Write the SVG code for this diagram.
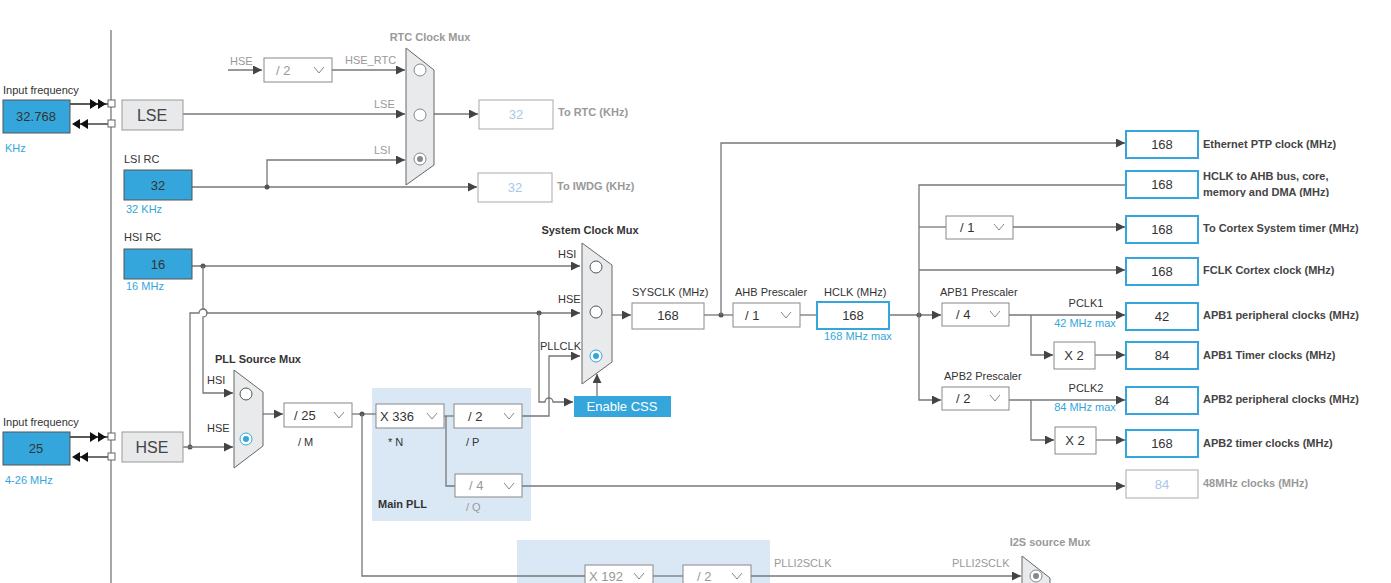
<svg xmlns="http://www.w3.org/2000/svg" width="1391" height="583" viewBox="0 0 1391 583">
<defs>
<marker id="ar" viewBox="0 0 10 10" refX="10" refY="5" markerWidth="9" markerHeight="9" markerUnits="userSpaceOnUse" orient="auto"><path d="M0,0L10,5L0,10z" fill="#444"/></marker>
<clipPath id="cl"><rect x="1200" y="168" width="190" height="29"/></clipPath>
<style>
text{font-family:"Liberation Sans",Arial,sans-serif;font-size:11px;fill:#333}
.w{stroke:#777;stroke-width:1.3;fill:none}
.a{marker-end:url(#ar)}
.blue{fill:#34a6dc;stroke:#555;stroke-width:1}
.gbox{fill:#e8e9eb;stroke:#999}
.dd{fill:#fff;stroke:#888}
.out{fill:#fff;stroke:#34a6dc;stroke-width:2}
.dis{fill:#fff;stroke:#aaa}
.mux{fill:#e8eaec;stroke:#666}
.b{font-weight:bold}
.bl{fill:#34a6dc}
.g{fill:#999}
.lt{fill:#a9c8e6}
.c{text-anchor:middle}
.big{font-size:16px;fill:#444}
.v{font-size:13px}
.chev{fill:none;stroke:#888;stroke-width:1}
.pll{fill:#dae8f5}
.dot{fill:#555}
</style>
</defs>
<rect width="1391" height="583" fill="#fff"/>
<rect class="pll" x="372" y="388" width="159" height="133"/>
<rect class="pll" x="517" y="540" width="253" height="43"/>
<g id="connectors">
<line class="w" x1="111" y1="30" x2="111" y2="583"/>
<line class="w" x1="70" y1="104" x2="108" y2="104" style="stroke:#222"/>
<path d="M90,99L98,104L90,109zM98,99L106,104L98,109z" fill="#111"/>
<line class="w" x1="78" y1="124" x2="108" y2="124" style="stroke:#222"/>
<path d="M80,119L72,124L80,129zM88,119L80,124L88,129z" fill="#111"/>
<rect x="108" y="100" width="7" height="7" fill="#fff" stroke="#666"/>
<rect x="108" y="120" width="7" height="7" fill="#fff" stroke="#666"/>
<line class="w" x1="70" y1="437" x2="108" y2="437" style="stroke:#222"/>
<path d="M90,432L98,437L90,442zM98,432L106,437L98,442z" fill="#111"/>
<line class="w" x1="78" y1="457" x2="108" y2="457" style="stroke:#222"/>
<path d="M80,452L72,457L80,462zM88,452L80,457L88,462z" fill="#111"/>
<rect x="108" y="433" width="7" height="7" fill="#fff" stroke="#666"/>
<rect x="108" y="453" width="7" height="7" fill="#fff" stroke="#666"/>
<line class="w a" x1="228" y1="70" x2="262" y2="70"/>
<line class="w a" x1="332" y1="70" x2="405" y2="70"/>
<line class="w a" x1="183" y1="114" x2="405" y2="114"/>
<line class="w a" x1="434" y1="114" x2="478" y2="114"/>
<line class="w a" x1="192" y1="187" x2="477" y2="187"/>
<polyline class="w a" points="267,187 267,160 405,160"/>
<circle class="dot" cx="267" cy="187" r="2.5"/>
<line class="w a" x1="192" y1="266" x2="580" y2="266"/>
<circle class="dot" cx="203" cy="266" r="2.5"/>
<path class="w a" d="M203,266V309a4,4 0 0 1 0,8V393H233"/>
<path class="w a" d="M190,447V313H199a4,4 0 0 1 8,0H580"/>
<circle class="dot" cx="190" cy="447" r="2.5"/>
<line class="w a" x1="183" y1="447" x2="233" y2="447"/>
<circle class="dot" cx="539" cy="313" r="2.5"/>
<path class="w a" d="M539,313V402H545a4,4 0 0 1 8,0H573"/>
<line class="w a" x1="263" y1="414" x2="283" y2="414"/>
<line class="w" x1="352" y1="414" x2="376" y2="414"/>
<circle class="dot" cx="362" cy="414" r="2.5"/>
<polyline class="w" points="362,414 362,576 585,576"/>
<line class="w" x1="444" y1="416" x2="454" y2="416"/>
<polyline class="w" points="446,416 446,486 455,486"/>
<polyline class="w a" points="522,416 549,416 549,356 580,356"/>
<line class="w a" x1="522" y1="486" x2="1125" y2="486"/>
<line class="w a" x1="597" y1="396" x2="597" y2="374"/>
<line class="w a" x1="612" y1="315" x2="631" y2="315"/>
<line class="w" x1="704" y1="315" x2="733" y2="315"/>
<circle class="dot" cx="721" cy="315" r="2.5"/>
<polyline class="w a" points="721,315 721,143 1125,143"/>
<line class="w" x1="800" y1="315" x2="817" y2="315"/>
<line class="w a" x1="889" y1="315" x2="941" y2="315"/>
<circle class="dot" cx="919" cy="315" r="2.5"/>
<polyline class="w a" points="1125,185 919,185 919,400 941,400"/>
<line class="w" x1="919" y1="227" x2="946" y2="227"/>
<line class="w a" x1="1013" y1="227" x2="1125" y2="227"/>
<line class="w a" x1="919" y1="270" x2="1125" y2="270"/>
<line class="w a" x1="1009" y1="315" x2="1125" y2="315"/>
<polyline class="w a" points="1031,315 1031,355 1053,355"/>
<line class="w a" x1="1095" y1="355" x2="1125" y2="355"/>
<line class="w a" x1="1009" y1="400" x2="1125" y2="400"/>
<polyline class="w a" points="1031,400 1031,440 1054,440"/>
<line class="w a" x1="1096" y1="440" x2="1125" y2="440"/>
<line class="w" x1="653" y1="576" x2="683" y2="576"/>
<line class="w a" x1="751" y1="576" x2="1021" y2="576"/>
</g>
<g id="in-lse"><text x="3" y="94">Input frequency</text><rect class="blue" x="3" y="100" width="67" height="33"/><text class="c v" x="36" y="121">32.768</text><text class="bl" x="5" y="152">KHz</text></g>
<g id="lse"><rect class="gbox" x="122" y="100" width="61" height="30"/><text class="c big" x="152" y="121">LSE</text></g>
<g id="lsi"><text x="124" y="163">LSI RC</text><rect class="blue" x="124" y="170" width="68" height="30"/><text class="c v" x="158" y="190">32</text><text class="bl" x="126" y="213">32 KHz</text></g>
<g id="hsi"><text x="124" y="241">HSI RC</text><rect class="blue" x="124" y="249" width="68" height="30"/><text class="c v" x="158" y="269">16</text><text class="bl" x="126" y="290">16 MHz</text></g>
<g id="in-hse"><text x="3" y="426">Input frequency</text><rect class="blue" x="3" y="432" width="67" height="33"/><text class="c v" x="36" y="453">25</text><text class="bl" x="5" y="484">4-26 MHz</text></g>
<g id="hse"><rect class="gbox" x="122" y="432" width="61" height="30"/><text class="c big" x="152" y="453">HSE</text></g>
<g id="rtcdiv"><text class="g" x="230" y="65">HSE</text><rect class="dd" x="264" y="58" width="68" height="24"/><text class="g v" x="276" y="75">/ 2</text><polyline class="chev" points="314,67 319,73 324,67"/><text class="g" x="345" y="64">HSE_RTC</text></g>
<g id="rtcmux"><text class="c b g" x="430" y="41">RTC Clock Mux</text><polygon class="mux" points="406,48 434,70 434,165 406,185"/><circle cx="420" cy="70" r="6" fill="#fff" stroke="#888"/><circle cx="420" cy="115" r="6" fill="#fff" stroke="#888"/><circle cx="420" cy="159" r="6" fill="#fff" stroke="#888"/><circle cx="420" cy="159" r="3" fill="#888"/><text class="g" x="374" y="108">LSE</text><text class="g" x="374" y="154">LSI</text></g>
<g id="rtc"><rect class="dis" x="479" y="100" width="74" height="29"/><text class="c v lt" x="516" y="119">32</text><text class="b g" x="558" y="116">To RTC (KHz)</text></g>
<g id="iwdg"><rect class="dis" x="478" y="173" width="74" height="29"/><text class="c v lt" x="515" y="192">32</text><text class="b g" x="557" y="190">To IWDG (KHz)</text></g>
<g id="pllmux"><text class="c b" x="258" y="363">PLL Source Mux</text><polygon class="mux" points="234,370 263,392 263,446 234,468"/><circle cx="246" cy="394" r="6" fill="#fff" stroke="#555"/><circle cx="246" cy="439" r="6" fill="#fff" stroke="#34a6dc"/><circle cx="246" cy="439" r="3" fill="#34a6dc"/><text x="207" y="384">HSI</text><text x="207" y="432">HSE</text></g>
<g id="divm"><rect class="dd" x="284" y="403" width="68" height="24"/><text class="v" x="294" y="420">/ 25</text><polyline class="chev" points="334,412 339,418 344,412"/><text x="298" y="446">/ M</text></g>
<g id="muln"><rect class="dd" x="376" y="404" width="68" height="24"/><text class="v" x="380" y="421">X 336</text><polyline class="chev" points="427,413 432,419 437,413"/><text x="388" y="446">* N</text></g>
<g id="divp"><rect class="dd" x="454" y="404" width="68" height="24"/><text class="v" x="468" y="421">/ 2</text><polyline class="chev" points="504,413 509,419 514,413"/><text x="466" y="446">/ P</text></g>
<g id="divq"><rect class="dd" x="455" y="474" width="67" height="23" stroke="#aaa"/><text class="v g" x="469" y="490">/ 4</text><polyline class="chev" points="504,483 509,489 514,483" stroke="#bbb"/><text class="g" x="466" y="511">/ Q</text><text class="b" x="378" y="508">Main PLL</text></g>
<g id="sysmux"><text class="c b" x="590" y="234">System Clock Mux</text><polygon class="mux" points="582,243 612,265 612,362 582,384"/><circle cx="596" cy="267" r="6" fill="#fff" stroke="#555"/><circle cx="596" cy="312" r="6" fill="#fff" stroke="#555"/><circle cx="596" cy="356" r="6" fill="#fff" stroke="#34a6dc"/><circle cx="596" cy="356" r="3" fill="#34a6dc"/><text x="558" y="258">HSI</text><text x="558" y="303">HSE</text><text x="540" y="350">PLLCLK</text></g>
<g id="css"><rect x="574" y="396" width="97" height="21" fill="#34a6dc"/><text class="c" x="622" y="411" style="fill:#fff;font-size:13px">Enable CSS</text></g>
<g id="sysclk"><text x="632" y="296">SYSCLK (MHz)</text><rect class="dd" x="632" y="303" width="72" height="26" stroke="#777"/><text class="c v" x="668" y="320">168</text></g>
<g id="ahb"><text x="735" y="296">AHB Prescaler</text><rect class="dd" x="733" y="303" width="67" height="24"/><text class="v" x="745" y="320">/ 1</text><polyline class="chev" points="781,312 786,318 791,312"/></g>
<g id="hclk"><text x="824" y="296">HCLK (MHz)</text><rect class="out" x="817" y="302" width="72" height="27"/><text class="c v" x="853" y="320">168</text><text class="bl" x="824" y="340">168 MHz max</text></g>
<g id="systdiv"><rect class="dd" x="946" y="216" width="67" height="23"/><text class="v" x="960" y="232">/ 1</text><polyline class="chev" points="994,224 999,230 1004,224"/></g>
<g id="apb1"><text x="940" y="296">APB1 Prescaler</text><rect class="dd" x="942" y="303" width="67" height="23"/><text class="v" x="956" y="319">/ 4</text><polyline class="chev" points="990,311 995,317 1000,311"/><text class="c" x="1086" y="307">PCLK1</text><text class="c bl" x="1085" y="327">42 MHz max</text></g>
<g id="apb1x2"><rect class="dd" x="1054" y="342" width="41" height="27"/><text class="c v" x="1074" y="360">X 2</text></g>
<g id="apb2"><text x="944" y="380">APB2 Prescaler</text><rect class="dd" x="942" y="387" width="67" height="23"/><text class="v" x="956" y="403">/ 2</text><polyline class="chev" points="990,395 995,401 1000,395"/><text class="c" x="1086" y="392">PCLK2</text><text class="c bl" x="1085" y="411">84 MHz max</text></g>
<g id="apb2x2"><rect class="dd" x="1055" y="427" width="41" height="27"/><text class="c v" x="1075" y="445">X 2</text></g>
<g id="o1"><rect class="out" x="1126" y="131" width="72" height="27"/><text class="c v" x="1162" y="149">168</text><text class="b" x="1203" y="148" style="fill:#444">Ethernet PTP clock (MHz)</text></g>
<g id="o2"><rect class="out" x="1126" y="171" width="72" height="27"/><text class="c v" x="1162" y="189">168</text><g clip-path="url(#cl)"><text class="b" x="1203" y="180" style="fill:#444">HCLK to AHB bus, core,</text><text class="b" x="1203" y="196" style="fill:#444">memory and DMA (MHz)</text></g></g>
<g id="o3"><rect class="out" x="1126" y="216" width="72" height="27"/><text class="c v" x="1162" y="234">168</text><text class="b" x="1203" y="232" style="fill:#444">To Cortex System timer (MHz)</text></g>
<g id="o4"><rect class="out" x="1126" y="258" width="72" height="27"/><text class="c v" x="1162" y="276">168</text><text class="b" x="1203" y="274" style="fill:#444">FCLK Cortex clock (MHz)</text></g>
<g id="o5"><rect class="out" x="1126" y="303" width="72" height="27"/><text class="c v" x="1162" y="321">42</text><text class="b" x="1203" y="319" style="fill:#444">APB1 peripheral clocks (MHz)</text></g>
<g id="o6"><rect class="out" x="1126" y="342" width="72" height="27"/><text class="c v" x="1162" y="360">84</text><text class="b" x="1203" y="359" style="fill:#444">APB1 Timer clocks (MHz)</text></g>
<g id="o7"><rect class="out" x="1126" y="387" width="72" height="27"/><text class="c v" x="1162" y="405">84</text><text class="b" x="1203" y="403" style="fill:#444">APB2 peripheral clocks (MHz)</text></g>
<g id="o8"><rect class="out" x="1126" y="430" width="72" height="27"/><text class="c v" x="1162" y="448">168</text><text class="b" x="1203" y="447" style="fill:#444">APB2 timer clocks (MHz)</text></g>
<g id="o9"><rect class="dis" x="1126" y="470" width="72" height="28"/><text class="c v lt" x="1162" y="489">84</text><text class="b g" x="1203" y="487">48MHz clocks (MHz)</text></g>
<g id="plli2s"><rect class="dd" x="585" y="565" width="68" height="22" stroke="#aaa"/><text class="v g" x="589" y="581">X 192</text><polyline class="chev" points="634,573 639,579 644,573" stroke="#bbb"/><rect class="dd" x="683" y="565" width="68" height="22" stroke="#aaa"/><text class="v g" x="697" y="581">/ 2</text><polyline class="chev" points="732,573 737,579 742,573" stroke="#bbb"/><text class="g" x="774" y="567">PLLI2SCLK</text></g>
<g id="i2smux"><text class="c b g" x="1050" y="546">I2S source Mux</text><polygon class="mux" points="1022,556 1050,578 1050,600 1022,600" stroke="#888"/><text class="g" x="952" y="567">PLLI2SCLK</text><circle cx="1036" cy="576" r="6" fill="#fff" stroke="#888"/><circle cx="1036" cy="576" r="3" fill="#888"/></g>
</svg>
